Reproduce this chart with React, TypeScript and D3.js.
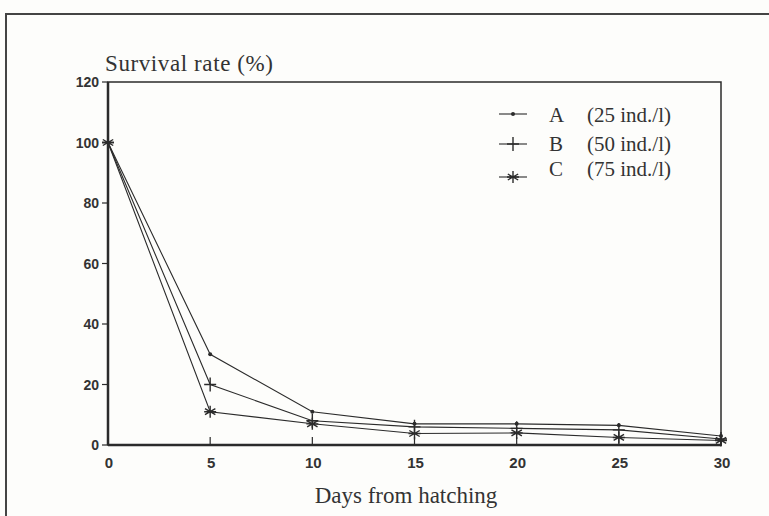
import React, { useRef, useEffect } from "react";
import * as d3 from "d3";

// days from hatching
const days = [0, 5, 10, 15, 20, 25, 30];
// survival rate (%) per density
const seriesA = [100, 30, 11, 7, 7, 6.5, 3];
const seriesB = [100, 20, 8, 6, 5.5, 5, 2];
const seriesC = [100, 11, 7, 3.8, 4, 2.5, 1.5];
const seriesNames = ["A", "B", "C"];
const seriesNotes = ["(25 ind./l)", "(50 ind./l)", "(75 ind./l)"];
const yTicks = [0, 20, 40, 60, 80, 100, 120];
const xTicks = [0, 5, 10, 15, 20, 25, 30];

const App = () => {
  const ref = useRef<SVGSVGElement | null>(null);

  useEffect(() => {
    const width = 769;
    const height = 516;
    const left = 108, right = 721, top = 82, bottom = 445;
    const ink = "#2b2b2b";
    const serif = "'Liberation Serif', 'DejaVu Serif', serif";
    const sans = "'Liberation Sans', Arial, sans-serif";

    const svg = d3.select(ref.current);
    svg.selectAll("*").remove();

    svg.append("rect").attr("width", width).attr("height", height).attr("fill", "#fdfdfb");

    // outer frame (top and left edges)
    svg.append("path")
      .attr("d", `M6,${height} L6,14 L${width},14`)
      .attr("fill", "none")
      .attr("stroke", "#444")
      .attr("stroke-width", 2);

    const x = d3.scaleLinear().domain([0, 30]).range([left, right]);
    const y = d3.scaleLinear().domain([0, 120]).range([bottom, top]);

    // plot box
    svg.append("rect")
      .attr("x", left).attr("y", top)
      .attr("width", right - left).attr("height", bottom - top)
      .attr("fill", "none").attr("stroke", ink).attr("stroke-width", 1.5);
    svg.append("line")
      .attr("x1", left).attr("x2", left).attr("y1", top).attr("y2", bottom)
      .attr("stroke", ink).attr("stroke-width", 2.5);
    svg.append("line")
      .attr("x1", left).attr("x2", right).attr("y1", bottom).attr("y2", bottom)
      .attr("stroke", ink).attr("stroke-width", 2.5);

    // y ticks
    const yg = svg.append("g");
    yTicks.forEach((t) => {
      yg.append("line")
        .attr("x1", left - 6).attr("x2", left).attr("y1", y(t)).attr("y2", y(t))
        .attr("stroke", ink).attr("stroke-width", 1.2);
      yg.append("text")
        .attr("x", left - 9).attr("y", y(t) + 5)
        .attr("text-anchor", "end")
        .attr("font-family", sans).attr("font-weight", "bold").attr("font-size", 14)
        .attr("fill", "#333")
        .text(t);
    });

    // x ticks
    const xg = svg.append("g");
    xTicks.forEach((t) => {
      xg.append("line")
        .attr("x1", x(t)).attr("x2", x(t)).attr("y1", bottom).attr("y2", bottom - 8)
        .attr("stroke", ink).attr("stroke-width", 1.2);
      xg.append("text")
        .attr("x", x(t) + 1).attr("y", bottom + 23)
        .attr("text-anchor", "middle")
        .attr("font-family", sans).attr("font-weight", "bold").attr("font-size", 15)
        .attr("fill", "#333")
        .text(t);
    });

    // axis titles
    svg.append("text")
      .attr("x", 105).attr("y", 71)
      .attr("font-family", serif).attr("font-size", 23).attr("letter-spacing", 0.6)
      .attr("fill", "#333")
      .text("Survival rate (%)");
    svg.append("text")
      .attr("x", 406).attr("y", 503)
      .attr("text-anchor", "middle")
      .attr("font-family", serif).attr("font-size", 23).attr("fill", "#333")
      .text("Days from hatching");

    const allSeries = [seriesA, seriesB, seriesC];
    const line = d3.line<number>().x((_, i) => x(days[i])).y((d) => y(d));

    const drawMarker = (g: any, kind: number, cx: number, cy: number) => {
      if (kind === 0) {
        g.append("circle").attr("cx", cx).attr("cy", cy).attr("r", 2).attr("fill", ink);
      } else if (kind === 1) {
        g.append("path")
          .attr("d", `M${cx - 6},${cy} L${cx + 6},${cy} M${cx},${cy - 7} L${cx},${cy + 7}`)
          .attr("stroke", ink).attr("stroke-width", 1.4);
      } else {
        const r = 6;
        const d = [0, 60, 120].map((a) => {
          const rad = (a * Math.PI) / 180 + Math.PI / 2;
          const dx = Math.cos(rad) * r, dy = Math.sin(rad) * r;
          return `M${cx - dx},${cy - dy} L${cx + dx},${cy + dy}`;
        }).join(" ") + ` M${cx - 6},${cy} L${cx + 6},${cy}`;
        g.append("path").attr("d", d).attr("stroke", ink).attr("stroke-width", 1.4);
      }
    };

    allSeries.forEach((s, k) => {
      svg.append("path")
        .datum(s)
        .attr("d", line)
        .attr("fill", "none")
        .attr("stroke", ink)
        .attr("stroke-width", 1.1);
      const mg = svg.append("g");
      s.forEach((v, i) => drawMarker(mg, k, x(days[i]), y(v)));
    });

    // legend
    const legendY = [114, 144, 177];
    const legendText = [122, 151, 176];
    seriesNames.forEach((name, k) => {
      const ly = legendY[k];
      svg.append("line")
        .attr("x1", 499).attr("x2", 527).attr("y1", ly).attr("y2", ly)
        .attr("stroke", ink).attr("stroke-width", 1.1);
      const mg = svg.append("g");
      drawMarker(mg, k, 513, ly);
      svg.append("text")
        .attr("x", 549).attr("y", legendText[k])
        .attr("font-family", serif).attr("font-size", 21).attr("fill", "#333")
        .text(name);
      svg.append("text")
        .attr("x", 587).attr("y", legendText[k])
        .attr("font-family", serif).attr("font-size", 21).attr("fill", "#333")
        .text(seriesNotes[k]);
    });
  }, []);

  return (
    <svg
      ref={ref}
      width={769}
      height={516}
      style={{ position: "absolute", left: 0, top: 0 }}
    />
  );
};

export default App;
